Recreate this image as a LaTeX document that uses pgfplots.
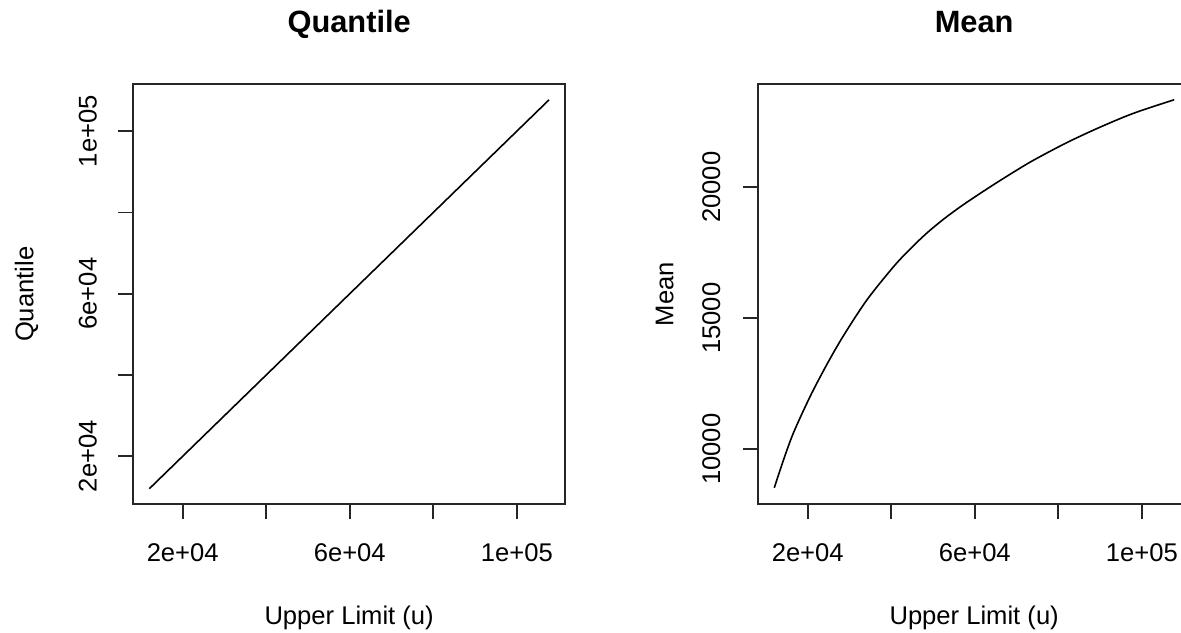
\documentclass[border=0pt]{standalone}
\usepackage{fontspec}
\setmainfont{Liberation Sans}
\usepackage{pgfplots}
\pgfplotsset{compat=1.18}

\pgfplotstableread{
u q
12000 12000
36000 36000
60000 60000
84000 84000
107700 107700
}\quantdata

\pgfplotstableread{
u m
12000 8530
14000 9500
16540 10610
20550 12007
24560 13230
28540 14330
34160 15698
40544 16968
44552 17649
48560 18258
52544 18784
56552 19257
60560 19690
64544 20104
69344 20584
74140 21040
82160 21714
90150 22305
98140 22832
107740 23340
}\meandata

\begin{document}
\begin{tikzpicture}[x=1pt,y=1pt]
\pgfplotsset{
  rstyle/.style={
    scale only axis, width=215.85pt, height=210pt,
    scaled ticks=false,
    axis line style={line width=0.9pt, black!85},
    tick pos=left, tick align=outside, major tick length=7.5pt,
    tick style={line width=0.9pt, black!85},
    ticklabel style={font=\fontsize{12.8}{15}\selectfont},
    label style={font=\fontsize{12.8}{15}\selectfont},
    title style={font=\bfseries\fontsize{15.4}{18}\selectfont,
      at={(axis description cs:0.5,1)}, anchor=base, yshift=20.1pt},
    xticklabel style={anchor=base},
    xticklabel shift=21.2pt,
    yticklabel style={rotate=90, anchor=base},
    xlabel style={at={(axis description cs:0.5,-0.285)}, anchor=base},
    xmin=8170, xmax=111530,
    xtick={20000,40000,60000,80000,100000},
    xticklabels={2e+04,,6e+04,,1e+05},
    xlabel={Upper Limit (u)},
    clip=false,
  }
}
\begin{axis}[rstyle, at={(0pt,0pt)}, anchor=south west,
  title={Quantile},
  ymin=8170, ymax=111530,
  ytick={20000,40000,60000,80000,100000},
  yticklabels={2e+04,,6e+04,,1e+05},
  yticklabel shift=10.8pt,
  ylabel={Quantile},
  ylabel style={at={(axis description cs:-0.2316,0.5)}, anchor=base, rotate=0},
]
\addplot[black, line width=0.8pt] table[x=u,y=q] {\quantdata};
\end{axis}

\begin{axis}[rstyle, at={(312.5pt,0pt)}, anchor=south west,
  title={Mean},
  ymin=7900, ymax=23930,
  ytick={10000,15000,20000},
  yticklabels={10000,15000,20000},
  yticklabel shift=11.65pt,
  ylabel={Mean},
  ylabel style={at={(axis description cs:-0.1969,0.5)}, anchor=base, rotate=0},
]
\addplot[black, line width=0.8pt, smooth] table[x=u,y=m] {\meandata};
\end{axis}

\pgfresetboundingbox
\path[use as bounding box] (-66.65,-63.85) rectangle (523.85,252.15);
\end{tikzpicture}
\end{document}
